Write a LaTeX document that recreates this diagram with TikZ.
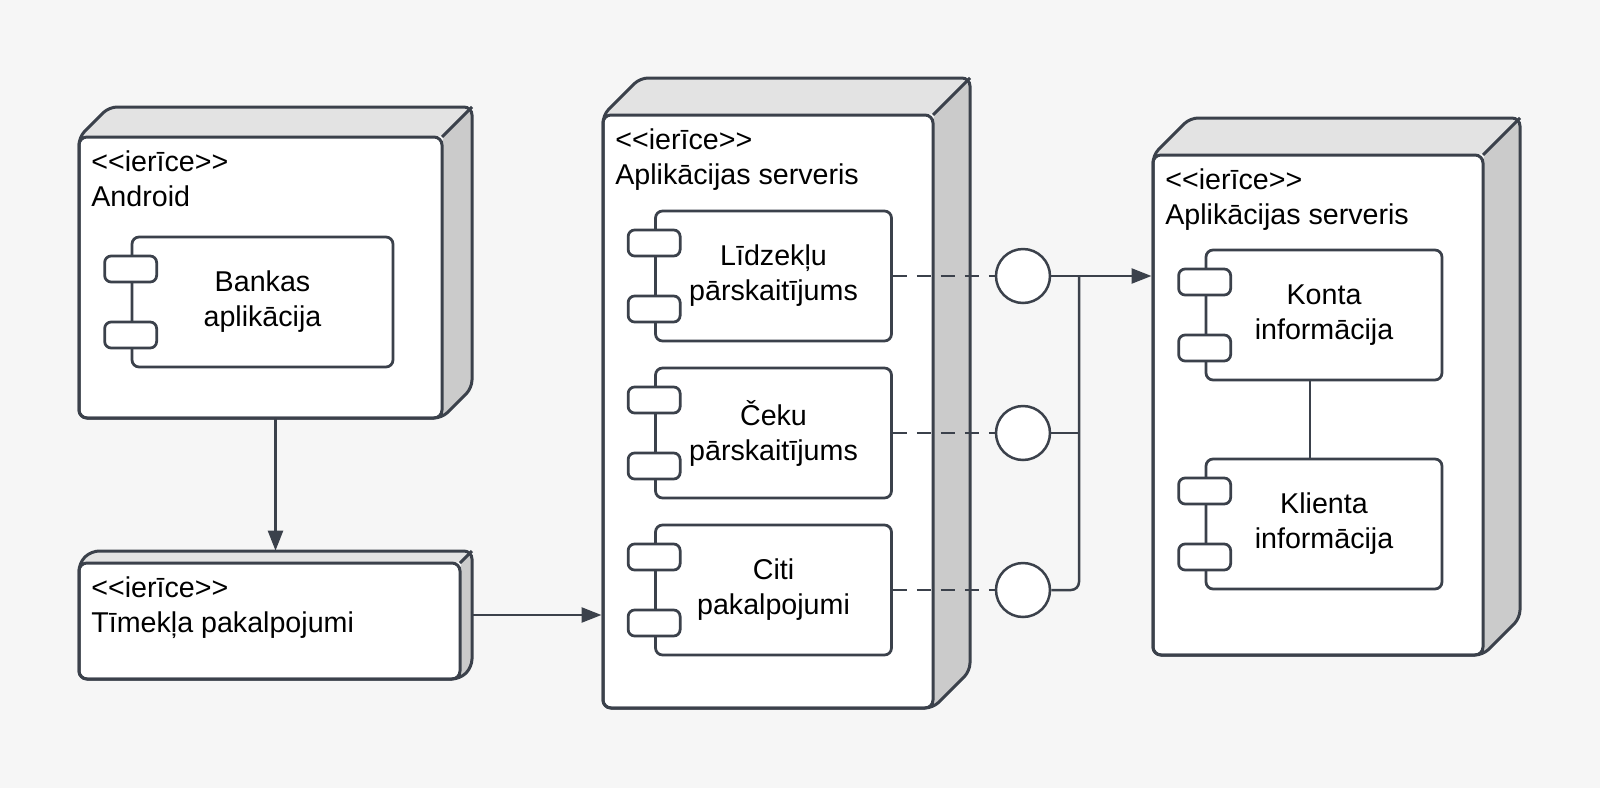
\documentclass[tikz,border=0pt]{standalone}
\usepackage{fontspec}
\setmainfont{Liberation Sans}[Ligatures=TeXOff]
\usetikzlibrary{arrows.meta,calc,fit}

\definecolor{bg}{HTML}{F6F6F6}
\definecolor{ink}{HTML}{3B414B}
\definecolor{topface}{HTML}{E3E3E3}
\definecolor{sideface}{HTML}{CBCBCB}

\tikzset{
  labeltext/.style={font=\fontsize{16.3}{19.9}\selectfont, text=black},
  compbox/.style={draw=ink, line width=0.055cm, fill=white, rounded corners=0.14cm,
    minimum width=4.72cm, minimum height=2.6cm, inner sep=0, align=center, labeltext},
  portbox/.style={draw=ink, line width=0.055cm, fill=white, rounded corners=0.13cm,
    minimum width=1.04cm, minimum height=0.52cm, inner sep=0},
  iface/.style={circle, draw=ink, line width=0.05cm, fill=white, minimum size=1.08cm, inner sep=0},
  link/.style={draw=ink, line width=0.05cm},
  dashlink/.style={link, dash pattern=on 0.28cm off 0.2cm},
  arrowlink/.style={link, -{Triangle[length=0.4cm,width=0.3cm]}},
  devframe/.style={draw=ink, line width=0.06cm, rounded corners=0.16cm},
  % two-line header; base anchor sits on the last line's baseline
  headtext/.style={anchor=base west, align=left, inner sep=0, labeltext},
}

% 3D device box: name, x0, y0, x1, y1 (front face), depth, title
\newcommand\devicenode[7]{%
  \fill[sideface, rounded corners=0.16cm] (#4,#3) -- (#4+#6,#3-#6) -- (#4+#6,#5-#6) -- (#4,#5) -- cycle;
  \fill[topface, rounded corners=0.16cm] (#2,#3) -- (#2+#6,#3-#6) -- (#4+#6,#3-#6) -- (#4,#3) -- cycle;
  \node[fit={(#2,#3) (#4,#5)}, inner sep=0, draw=ink, line width=0.06cm, fill=white,
        rounded corners=0.16cm] (#1) {};
  \node[fit={(#2,#3-#6) (#4+#6,#5)}, inner sep=0] (#1box) {};
  \draw[devframe] (#2,#5) -- (#2,#3) -- (#2+#6,#3-#6) -- (#4+#6,#3-#6) -- (#4+#6,#5-#6) -- (#4,#5) -- cycle;
  \draw[devframe] (#4,#3) -- (#4+#6,#3-#6);
  \node[headtext] (#1head) at (#2+12,#3+69.5) {<<ierīce>>\\#7};
}

% component with its two port tabs: [width], name, x, y, text
\newcommand\compnode[5][4.72cm]{%
  \node[compbox, minimum width=#1] (#2) at (#3,#4) {#5};
  \node[portbox] (#2pa) at ($(#2.west)+(0,-33)$) {};
  \node[portbox] (#2pb) at ($(#2.west)+(0,33)$) {};
}

\begin{document}
\begin{tikzpicture}[x=0.02cm, y=-0.02cm]
  \useasboundingbox (0,0) rectangle (1600,788);
  \fill[bg] (0,0) rectangle (1600,788);

  % devices
  \devicenode{android}{79}{137}{442}{418}{30}{Android}
  \devicenode{web}{79}{563}{460}{679}{12}{Tīmekļa pakalpojumi}
  \devicenode{app}{603}{115}{933}{708}{37}{Aplikācijas serveris}
  \devicenode{data}{1153}{155}{1483}{655}{37}{Aplikācijas serveris}

  % components
  \compnode[5.22cm]{bank}{262.5}{302}{Bankas\\aplikācija}
  \compnode{lidz}{773.5}{276}{Līdzekļu\\pārskaitījums}
  \compnode{ceku}{773.5}{433}{Čeku\\pārskaitījums}
  \compnode{citi}{773.5}{590}{Citi\\pakalpojumi}
  \compnode{konta}{1324}{315}{Konta\\informācija}
  \compnode{klienta}{1324}{524}{Klienta\\informācija}

  % provided interfaces
  \node[iface] (ifA) at (1023,276) {};
  \node[iface] (ifB) at (1023,433) {};
  \node[iface] (ifC) at (1023,590) {};
  \coordinate (busjoin) at (1079,276);

  % connectors
  \draw[arrowlink] (androidbox.south) -- (webbox.north);
  \draw[arrowlink] (webbox.east) -- (webbox.east -| app.west);

  \draw[dashlink] (lidz.east) -- (ifA.west);
  \draw[dashlink] (ceku.east) -- (ifB.west);
  \draw[dashlink] (citi.east) -- (ifC.west);

  \draw[link, rounded corners=0.16cm] (ifC.east) -- (ifC -| busjoin) -- (busjoin);
  \draw[link] (ifB.east) -- (ifB -| busjoin);
  \draw[arrowlink] (ifA.east) -- (ifA -| data.west);

  \draw[link] ([xshift=-0.28cm]konta.south) -- ([xshift=-0.28cm]klienta.north);
\end{tikzpicture}
\end{document}
